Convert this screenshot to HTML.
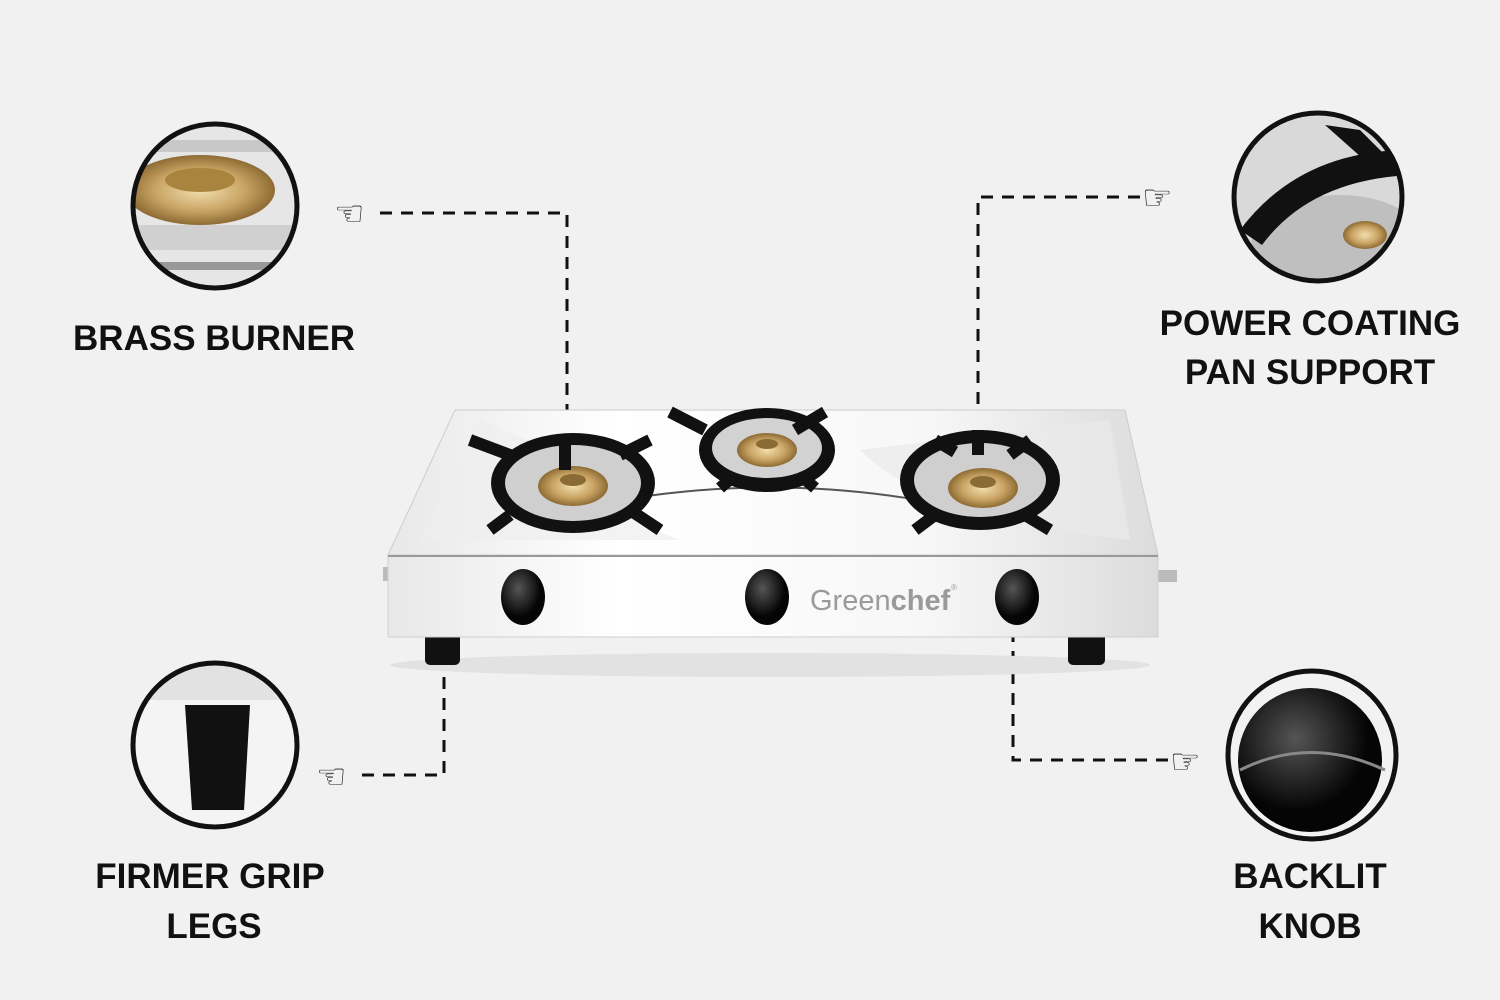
<!DOCTYPE html>
<html><head><meta charset="utf-8"><style>
html,body{margin:0;padding:0;background:#f1f1f1;}
svg{display:block}
text{font-family:"Liberation Sans",sans-serif;}
</style></head><body>
<svg width="1500" height="1000" viewBox="0 0 1500 1000" xmlns="http://www.w3.org/2000/svg">
<defs>
<linearGradient id="steel" x1="0" y1="0" x2="1" y2="0">
<stop offset="0" stop-color="#e8e8e8"/><stop offset="0.3" stop-color="#ffffff"/><stop offset="0.7" stop-color="#f7f7f7"/><stop offset="1" stop-color="#dcdcdc"/></linearGradient>
<radialGradient id="brass"><stop offset="0" stop-color="#f3dfae"/><stop offset="0.6" stop-color="#c9a464"/><stop offset="1" stop-color="#8d6b33"/></radialGradient>
<radialGradient id="knob" cx="0.4" cy="0.35"><stop offset="0" stop-color="#555"/><stop offset="1" stop-color="#050505"/></radialGradient>
<clipPath id="c1"><circle cx="215" cy="206" r="80"/></clipPath>
<clipPath id="c2"><circle cx="1318" cy="197" r="82"/></clipPath>
<clipPath id="c3"><circle cx="215" cy="745" r="80"/></clipPath>
<clipPath id="c4"><circle cx="1312" cy="755" r="82"/></clipPath>
</defs>
<rect width="1500" height="1000" fill="#f1f1f1"/>

<g stroke="#111" stroke-width="3" stroke-dasharray="12 9" fill="none">
<path d="M380 213 H567 V435"/>
<path d="M1140 197 H978 V420"/>
<path d="M362 775 H444 V672"/>
<path d="M1013 630 V760 H1170"/>
</g>
<g font-size="34" fill="#222">
<text x="334" y="225">☜</text>
<text x="1142" y="209">☞</text>
<text x="316" y="788">☜</text>
<text x="1170" y="773">☞</text>
</g>

<g clip-path="url(#c1)">
<rect x="130" y="120" width="170" height="180" fill="#e6e6e6"/>
<rect x="130" y="140" width="170" height="12" fill="#c8c8c8"/>
<rect x="130" y="225" width="170" height="25" fill="#d0d0d0"/>
<ellipse cx="200" cy="190" rx="75" ry="35" fill="url(#brass)"/>
<ellipse cx="200" cy="180" rx="35" ry="12" fill="#a8843f"/>
<rect x="130" y="262" width="170" height="8" fill="#999"/>
</g>
<circle cx="215" cy="206" r="82" fill="none" stroke="#111" stroke-width="5"/>

<g clip-path="url(#c2)">
<rect x="1230" y="110" width="180" height="180" fill="#d9d9d9"/>
<ellipse cx="1340" cy="250" rx="90" ry="55" fill="#bfbfbf"/>
<path d="M1240 230 Q1300 150 1410 150 L1410 175 Q1310 180 1262 245 Z" fill="#111"/>
<path d="M1325 125 L1360 130 L1390 160 L1370 165 Z" fill="#111"/>
<ellipse cx="1365" cy="235" rx="22" ry="14" fill="url(#brass)"/>
</g>
<circle cx="1318" cy="197" r="84" fill="none" stroke="#111" stroke-width="5"/>

<g clip-path="url(#c3)">
<rect x="130" y="660" width="170" height="170" fill="#f4f4f4"/>
<rect x="130" y="660" width="170" height="40" fill="#e2e2e2"/>
<path d="M185 705 H250 L244 810 H192 Z" fill="#111"/>
</g>
<circle cx="215" cy="745" r="82" fill="none" stroke="#111" stroke-width="5"/>

<g clip-path="url(#c4)">
<rect x="1225" y="670" width="180" height="170" fill="#f2f2f2"/>
<circle cx="1310" cy="760" r="72" fill="url(#knob)"/>
<path d="M1240 770 Q1310 735 1385 770" stroke="#888" stroke-width="3" fill="none"/>
</g>
<circle cx="1312" cy="755" r="84" fill="none" stroke="#111" stroke-width="5"/>

<g font-weight="bold" font-size="35" fill="#111" text-anchor="middle">
<text x="214" y="350">BRASS BURNER</text>
<text x="1310" y="335">POWER COATING</text>
<text x="1310" y="384">PAN SUPPORT</text>
<text x="210" y="888">FIRMER GRIP</text>
<text x="214" y="938">LEGS</text>
<text x="1310" y="888">BACKLIT</text>
<text x="1310" y="938">KNOB</text>
</g>

<ellipse cx="770" cy="665" rx="380" ry="12" fill="#e2e2e2"/>
<rect x="425" y="630" width="35" height="35" rx="5" fill="#111"/>
<rect x="1068" y="630" width="37" height="35" rx="5" fill="#111"/>
<rect x="1155" y="570" width="22" height="12" fill="#bbb"/>
<rect x="383" y="567" width="6" height="14" fill="#bbb"/>
<path d="M455 410 H1125 L1158 555 H388 Z" fill="url(#steel)" stroke="#ccc"/>
<path d="M480 420 Q455 470 420 540 H680 Q620 520 600 470 Z" fill="#eeeeee" opacity="0.7"/>
<path d="M860 450 Q930 520 1130 540 L1110 420 Z" fill="#e9e9e9" opacity="0.7"/>
<path d="M530 520 Q770 455 1010 520" stroke="#555" stroke-width="2" fill="none"/>
<rect x="388" y="555" width="770" height="82" fill="url(#steel)" stroke="#cfcfcf"/>
<line x1="388" y1="556" x2="1158" y2="556" stroke="#999" stroke-width="2"/>

<g>
<ellipse cx="573" cy="483" rx="82" ry="50" fill="#111"/>
<ellipse cx="573" cy="483" rx="68" ry="38" fill="#cfcfcf"/>
<ellipse cx="573" cy="486" rx="35" ry="20" fill="url(#brass)"/>
<ellipse cx="573" cy="480" rx="13" ry="6" fill="#8a6a35"/>
<path d="M470 440 L510 455 M650 440 L620 455 M490 530 L510 515 M660 530 L630 510 M565 470 L565 440" stroke="#111" stroke-width="12"/>
<ellipse cx="767" cy="450" rx="68" ry="42" fill="#111"/>
<ellipse cx="767" cy="448" rx="55" ry="30" fill="#d2d2d2"/>
<ellipse cx="767" cy="450" rx="30" ry="17" fill="url(#brass)"/>
<ellipse cx="767" cy="444" rx="11" ry="5" fill="#8a6a35"/>
<path d="M670 412 L705 430 M825 412 L795 430 M720 488 L735 475 M815 488 L800 475" stroke="#111" stroke-width="12"/>
<ellipse cx="980" cy="480" rx="80" ry="50" fill="#111"/>
<ellipse cx="980" cy="480" rx="66" ry="37" fill="#cfcfcf"/>
<ellipse cx="983" cy="488" rx="35" ry="20" fill="url(#brass)"/>
<ellipse cx="983" cy="482" rx="13" ry="6" fill="#8a6a35"/>
<path d="M935 440 L955 452 M1030 440 L1010 455 M915 530 L935 515 M1050 530 L1025 515 M978 455 L978 430" stroke="#111" stroke-width="12"/>
</g>

<g>
<ellipse cx="523" cy="597" rx="22" ry="28" fill="url(#knob)"/>
<ellipse cx="767" cy="597" rx="22" ry="28" fill="url(#knob)"/>
<ellipse cx="1017" cy="597" rx="22" ry="28" fill="url(#knob)"/>
</g>
<text x="810" y="610" font-size="29" fill="#9a9a9a">Green<tspan font-weight="bold">chef</tspan></text>
<text x="951" y="590" font-size="8" fill="#9a9a9a">®</text>
</svg>
</body></html>
